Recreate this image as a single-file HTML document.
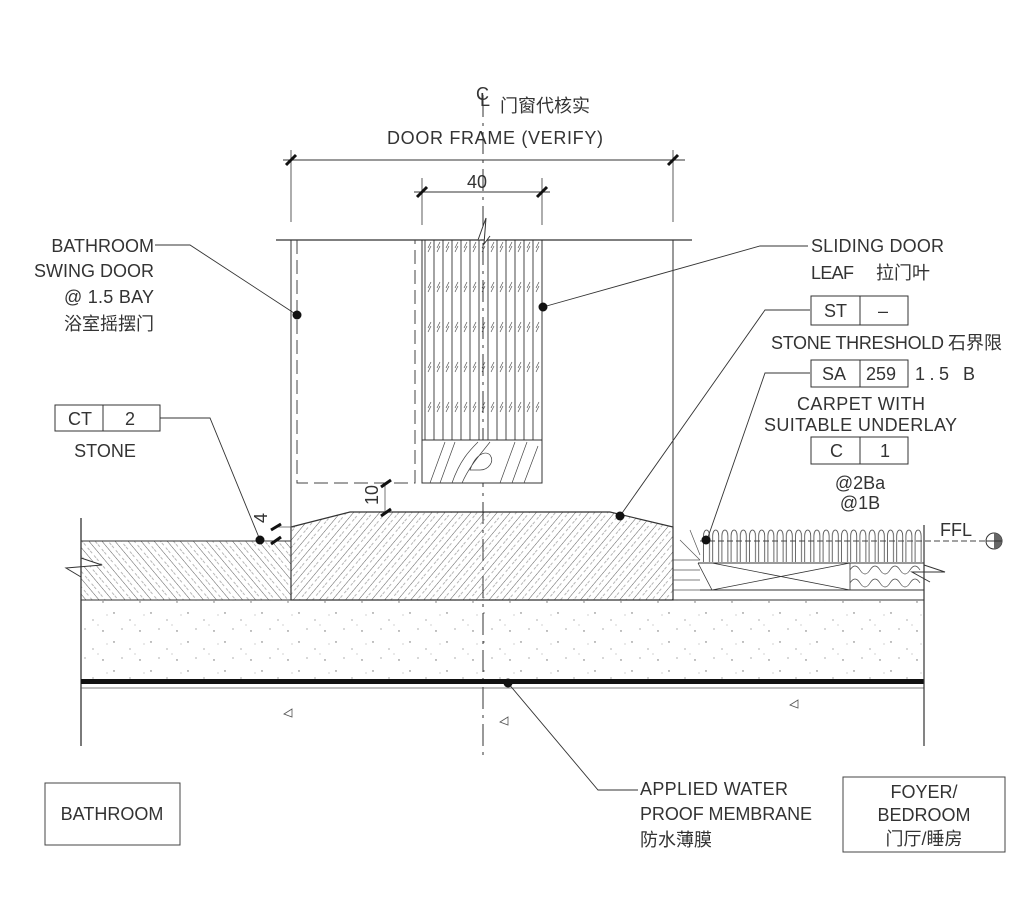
<!DOCTYPE html>
<html><head><meta charset="utf-8"><style>
html,body{margin:0;padding:0;background:#fff;}
svg{display:block;}
text{font-family:"Liberation Sans","Noto Sans CJK SC",sans-serif;fill:#333;font-size:18px;}
</style></head><body>
<svg width="1012" height="904" viewBox="0 0 1012 904" xmlns="http://www.w3.org/2000/svg">
<defs>
<pattern id="hR" patternUnits="userSpaceOnUse" width="10" height="10" patternTransform="rotate(40)">
<line x1="0" y1="0" x2="0" y2="10" stroke="#333" stroke-width="0.8"/>
<line x1="5" y1="0" x2="5" y2="10" stroke="#888" stroke-width="0.6" stroke-dasharray="3,3"/>
</pattern>
<pattern id="hL" patternUnits="userSpaceOnUse" width="10" height="10" patternTransform="rotate(-40)">
<line x1="0" y1="0" x2="0" y2="10" stroke="#333" stroke-width="0.8"/>
<line x1="5" y1="0" x2="5" y2="10" stroke="#888" stroke-width="0.6" stroke-dasharray="3,3"/>
</pattern>
<pattern id="vert" patternUnits="userSpaceOnUse" width="9" height="40">
<line x1="2" y1="0" x2="2" y2="40" stroke="#333" stroke-width="0.9"/>
<line x1="5" y1="8" x2="8" y2="2" stroke="#555" stroke-width="0.7"/>
<line x1="5" y1="12" x2="8" y2="6" stroke="#555" stroke-width="0.7"/>
</pattern>
<pattern id="dots" patternUnits="userSpaceOnUse" width="37" height="29">
<circle cx="3" cy="4" r="0.7" fill="#666"/><circle cx="19" cy="11" r="0.6" fill="#777"/>
<circle cx="29" cy="22" r="0.7" fill="#666"/><circle cx="11" cy="20" r="0.6" fill="#777"/>
<circle cx="33" cy="6" r="0.5" fill="#888"/><circle cx="24" cy="16" r="0.5" fill="#888"/>
</pattern>
<pattern id="loops" patternUnits="userSpaceOnUse" width="9.2" height="34" x="702" y="528">
<path d="M1.5,34 L1.5,8 C1.5,0 7.5,0 7.5,8 L7.5,34" fill="none" stroke="#444" stroke-width="0.8"/>
</pattern>
</defs>

<line x1="483" y1="95" x2="483" y2="760" stroke="#333" stroke-width="1" stroke-dasharray="22,6,3,6"/>
<text x="476" y="100" font-size="15">C</text><text x="480" y="106" font-size="12">L</text>
<text x="500" y="112" font-size="18">门窗代核实</text>
<text x="387" y="144" font-size="18" textLength="216" lengthAdjust="spacing" fill="#555">DOOR FRAME (VERIFY)</text>

<line x1="283" y1="160" x2="685" y2="160" stroke="#333"/>
<line x1="291" y1="150" x2="291" y2="222" stroke="#333" stroke-width="0.8"/>
<line x1="673" y1="150" x2="673" y2="222" stroke="#333" stroke-width="0.8"/>
<line x1="286" y1="165" x2="296" y2="155" stroke="#111" stroke-width="3"/>
<line x1="668" y1="165" x2="678" y2="155" stroke="#111" stroke-width="3"/>
<line x1="414" y1="192" x2="550" y2="192" stroke="#333"/>
<line x1="422" y1="178" x2="422" y2="225" stroke="#333" stroke-width="0.8"/>
<line x1="542" y1="178" x2="542" y2="225" stroke="#333" stroke-width="0.8"/>
<line x1="417" y1="197" x2="427" y2="187" stroke="#111" stroke-width="3"/>
<line x1="537" y1="197" x2="547" y2="187" stroke="#111" stroke-width="3"/>
<text x="467" y="188" font-size="18">40</text>

<line x1="276" y1="240" x2="692" y2="240" stroke="#333" stroke-width="1.2"/>
<line x1="291" y1="240" x2="291" y2="600" stroke="#333"/>
<line x1="673" y1="240" x2="673" y2="600" stroke="#333"/>
<path d="M297,240 V483 H415 V240" fill="none" stroke="#444" stroke-dasharray="14,6"/>

<rect x="422" y="240" width="120" height="200" fill="url(#vert)" stroke="#333"/>
<rect x="422" y="440" width="120" height="43" fill="#fff" stroke="#333"/>
<g stroke="#444" stroke-width="0.7" fill="none">
<path d="M430,483 L445,442 M440,483 L455,442 M452,483 C460,460 470,450 478,442 M462,483 C470,465 480,455 490,442 M470,470 C475,455 485,450 490,455 C495,462 488,470 480,470 Z M500,483 L515,442 M512,483 L527,442 M524,483 L538,446"/>
</g>
<path d="M478,240 L486,218 L484,244 L490,236" fill="#fff" stroke="#333"/>

<polygon points="291,527 350,512 610,512 673,527 673,600 291,600" fill="url(#hR)" stroke="#333" stroke-width="1.2"/>
<rect x="81" y="541" width="210" height="59" fill="url(#hL)" stroke="#333"/>
<path d="M81,558 L102,565 L66,568 L81,577" fill="#fff" stroke="#333"/>
<line x1="81" y1="518" x2="81" y2="746" stroke="#333" stroke-width="1.3"/>

<rect x="81" y="600" width="843" height="80" fill="url(#dots)" stroke="none"/>
<line x1="81" y1="600" x2="924" y2="600" stroke="#333"/>
<rect x="81" y="679" width="843" height="5" fill="#111"/>
<line x1="81" y1="688" x2="924" y2="688" stroke="#555" stroke-width="0.8"/>
<line x1="924" y1="525" x2="924" y2="746" stroke="#333" stroke-width="1.2"/>
<path d="M284,714 l8,-5 l0,8 z M500,722 l8,-5 l0,8 z M790,705 l8,-5 l0,8 z" fill="none" stroke="#555" stroke-width="0.8"/>

<rect x="702" y="528" width="222" height="34" fill="url(#loops)"/>
<line x1="700" y1="541" x2="990" y2="541" stroke="#444" stroke-dasharray="6,3"/>
<line x1="698" y1="563" x2="924" y2="563" stroke="#333"/>
<line x1="700" y1="590" x2="924" y2="590" stroke="#333"/>
<path d="M698,563 L712,590 M712,563 L850,590 M712,590 L850,563 M850,563 V590" stroke="#333" fill="none" stroke-width="0.8"/>
<path d="M850,570 q5,-8 10,0 q5,8 10,0 q5,-8 10,0 q5,8 10,0 q5,-8 10,0 q5,8 10,0 q5,-8 10,0 M850,583 q5,-8 10,0 q5,8 10,0 q5,-8 10,0 q5,8 10,0 q5,-8 10,0 q5,8 10,0 q5,-8 10,0" stroke="#444" fill="none" stroke-width="0.7"/>
<path d="M924,565 L945,572 L912,572 L930,582" fill="none" stroke="#333"/>
<path d="M673,560 L700,560 M673,570 L700,570 M673,580 L700,580 M673,590 L700,590 M680,540 L700,560 M690,530 L700,555" stroke="#555" stroke-width="0.7"/>
<text x="940" y="536" font-size="17">FFL</text>
<circle cx="994" cy="541" r="8" fill="#fff" stroke="#333"/>
<path d="M994,533 A8,8 0 0 1 994,549 Z" fill="#666"/>
<line x1="986" y1="541" x2="1002" y2="541" stroke="#333"/>

<line x1="385" y1="483" x2="385" y2="512" stroke="#555" stroke-width="0.8"/>
<line x1="381" y1="487" x2="391" y2="480" stroke="#111" stroke-width="3"/>
<line x1="381" y1="516" x2="391" y2="509" stroke="#111" stroke-width="3"/>
<text transform="translate(378,505) rotate(-90)" font-size="16">10</text>
<line x1="275" y1="527" x2="295" y2="527" stroke="#555" stroke-width="0.8"/>
<line x1="271" y1="530" x2="281" y2="524" stroke="#111" stroke-width="3"/>
<line x1="271" y1="544" x2="281" y2="537" stroke="#111" stroke-width="3"/>
<text transform="translate(267,523) rotate(-90)" font-size="15">4</text>

<g stroke="#333" stroke-width="0.9" fill="none">
<polyline points="155,245 190,245 297,315"/>
<polyline points="160,418 210,418 260,540"/>
<polyline points="808,246 760,246 543,307"/>
<polyline points="810,310 765,310 620,516"/>
<polyline points="810,373 765,373 707,540"/>
<polyline points="638,790 598,790 508,683"/>
</g>
<g fill="#111">
<circle cx="297" cy="315" r="4.5"/><circle cx="260" cy="540" r="4.5"/><circle cx="543" cy="307" r="4.5"/>
<circle cx="620" cy="516" r="4.5"/><circle cx="706" cy="540" r="4.5"/><circle cx="508" cy="683" r="4.5"/>
</g>

<g text-anchor="end">
<text x="154" y="252" font-size="17">BATHROOM</text>
<text x="154" y="277" font-size="16.5">SWING DOOR</text>
<text x="154" y="303" textLength="90" lengthAdjust="spacing">@ 1.5 BAY</text>
<text x="154" y="330">浴室摇摆门</text>
</g>
<rect x="55" y="405" width="105" height="26" fill="none" stroke="#333"/>
<line x1="103" y1="405" x2="103" y2="431" stroke="#333"/>
<text x="68" y="425">CT</text><text x="125" y="425">2</text>
<text x="105" y="457" text-anchor="middle">STONE</text>

<text x="811" y="252" textLength="133" lengthAdjust="spacing">SLIDING DOOR</text>
<text x="811" y="279" textLength="43" lengthAdjust="spacing">LEAF</text><text x="876" y="279">拉门叶</text>
<rect x="811" y="296" width="97" height="29" fill="none" stroke="#333"/><line x1="860" y1="296" x2="860" y2="325" stroke="#333"/>
<text x="824" y="317">ST</text><text x="878" y="317">–</text>
<text x="771" y="349" textLength="173" lengthAdjust="spacing">STONE THRESHOLD</text><text x="948" y="349">石界限</text>
<rect x="811" y="360" width="97" height="27" fill="none" stroke="#333"/><line x1="860" y1="360" x2="860" y2="387" stroke="#333"/>
<text x="822" y="380">SA</text><text x="866" y="380">259</text><text x="915" y="380" textLength="60" lengthAdjust="spacing">1.5 B</text>
<text x="797" y="410" textLength="128" lengthAdjust="spacing">CARPET WITH</text>
<text x="764" y="431" textLength="193" lengthAdjust="spacing">SUITABLE UNDERLAY</text>
<rect x="811" y="437" width="97" height="27" fill="none" stroke="#333"/><line x1="860" y1="437" x2="860" y2="464" stroke="#333"/>
<text x="830" y="457">C</text><text x="880" y="457">1</text>
<text x="860" y="489" text-anchor="middle" font-size="16">@2Ba</text>
<text x="860" y="509" text-anchor="middle" font-size="16">@1B</text>

<text x="640" y="795" textLength="148" lengthAdjust="spacing">APPLIED WATER</text>
<text x="640" y="820" textLength="172" lengthAdjust="spacing">PROOF MEMBRANE</text>
<text x="640" y="846">防水薄膜</text>
<rect x="45" y="783" width="135" height="62" fill="none" stroke="#444"/>
<text x="112" y="820" text-anchor="middle" fill="#555">BATHROOM</text>
<rect x="843" y="777" width="162" height="75" fill="none" stroke="#444"/>
<text x="924" y="798" text-anchor="middle" fill="#555">FOYER/</text>
<text x="924" y="821" text-anchor="middle" fill="#555">BEDROOM</text>
<text x="924" y="845" text-anchor="middle" fill="#222">门厅/睡房</text>
</svg>
</body></html>
